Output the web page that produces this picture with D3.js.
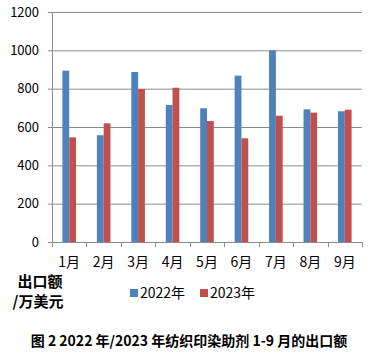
<!DOCTYPE html>
<html>
<head>
    <meta charset="utf-8">
    <title>出口额</title>
    <script src="https://d3js.org/d3.v7.min.js"></script>
    <style>
        body { margin: 0; background: #fff; }
        text { font-family: "Noto Sans CJK SC", "DejaVu Sans", sans-serif; }
    </style>
</head>
<body>
    <script>
        // 月份
        const months = ["1月", "2月", "3月", "4月", "5月", "6月", "7月", "8月", "9月"];
        // 2022年 出口额（万美元）
        const v2022 = [894, 557, 887, 715, 698, 868, 1000, 692, 682];
        // 2023年 出口额（万美元）
        const v2023 = [546, 619, 798, 805, 631, 541, 659, 675, 690];
        const seriesNames = ["2022年", "2023年"];
        const yTicks = [0, 200, 400, 600, 800, 1000, 1200];

        const colors = ["#4f81bd", "#c0504d"];
        const width = 375, height = 358;
        const plotL = 52, plotR = 362, plotT = 12, plotB = 242;

        const data = months.map((m, i) => ({ month: m, vals: [v2022[i], v2023[i]] }));

        const svg = d3.select("body").append("svg")
            .attr("width", width)
            .attr("height", height);

        const x = d3.scaleBand().domain(months).range([plotL, plotR]);
        const y = d3.scaleLinear().domain([0, 1200]).range([plotB, plotT]);
        const barW = 6.8;

        // グリッド線
        svg.selectAll("line.grid")
            .data(yTicks.slice(1))
            .enter().append("line")
            .attr("class", "grid")
            .attr("x1", plotL).attr("x2", plotR)
            .attr("y1", d => y(d) + 0.5).attr("y2", d => y(d) + 0.5)
            .attr("stroke", "#8c8c8c").attr("stroke-width", 1);

        // 縦軸
        svg.append("line")
            .attr("x1", plotL + 0.5).attr("x2", plotL + 0.5)
            .attr("y1", plotT).attr("y2", plotB)
            .attr("stroke", "#8c8c8c");
        svg.selectAll("line.ytick")
            .data(yTicks)
            .enter().append("line")
            .attr("class", "ytick")
            .attr("x1", plotL - 4).attr("x2", plotL)
            .attr("y1", d => y(d) + 0.5).attr("y2", d => y(d) + 0.5)
            .attr("stroke", "#8c8c8c");
        svg.selectAll("text.ylab")
            .data(yTicks)
            .enter().append("text")
            .attr("class", "ylab")
            .attr("x", 39)
            .attr("y", d => y(d))
            .attr("dy", "0.35em")
            .attr("text-anchor", "end")
            .attr("font-size", 13)
            .attr("fill", "#000")
            .text(d => d);

        // 棒
        const groups = svg.selectAll("g.month")
            .data(data)
            .enter().append("g")
            .attr("class", "month");
        [0, 1].forEach(k => {
            groups.append("rect")
                .attr("x", d => x(d.month) + x.bandwidth() / 2 - barW + k * barW)
                .attr("y", d => y(d.vals[k]))
                .attr("width", barW)
                .attr("height", d => y(0) - y(d.vals[k]))
                .attr("fill", colors[k]);
        });

        // 横軸
        svg.append("line")
            .attr("x1", plotL).attr("x2", plotR)
            .attr("y1", plotB + 0.5).attr("y2", plotB + 0.5)
            .attr("stroke", "#8c8c8c");
        svg.selectAll("line.xtick")
            .data(months.concat(["end"]))
            .enter().append("line")
            .attr("class", "xtick")
            .attr("x1", (d, i) => Math.round(plotL + i * x.bandwidth()) + 0.5)
            .attr("x2", (d, i) => Math.round(plotL + i * x.bandwidth()) + 0.5)
            .attr("y1", plotB).attr("y2", plotB + 5)
            .attr("stroke", "#8c8c8c");
        svg.selectAll("text.xlab")
            .data(months)
            .enter().append("text")
            .attr("class", "xlab")
            .attr("x", d => x(d) + x.bandwidth() / 2)
            .attr("y", 262)
            .attr("dy", "0.35em")
            .attr("text-anchor", "middle")
            .attr("font-size", 14)
            .text(d => d);

        // 単位
        svg.append("text")
            .attr("x", 40).attr("y", 282).attr("dy", "0.35em")
            .attr("text-anchor", "middle")
            .attr("font-size", 15).attr("font-weight", "bold")
            .text("出口额");
        svg.append("text")
            .attr("x", 38).attr("y", 302).attr("dy", "0.35em")
            .attr("text-anchor", "middle")
            .attr("font-size", 15).attr("font-weight", "bold")
            .text("/万美元");

        // 凡例
        const legX = [130, 200];
        seriesNames.forEach((s, k) => {
            svg.append("rect")
                .attr("x", legX[k]).attr("y", 289)
                .attr("width", 8).attr("height", 8)
                .attr("fill", colors[k]);
            svg.append("text")
                .attr("x", legX[k] + 10).attr("y", 293).attr("dy", "0.35em")
                .attr("font-size", 14)
                .text(s);
        });

        // 図タイトル
        svg.append("text")
            .attr("x", 189).attr("y", 341).attr("dy", "0.35em")
            .attr("text-anchor", "middle")
            .attr("font-size", 14).attr("font-weight", "bold")
            .text("图 2 2022 年/2023 年纺织印染助剂 1-9 月的出口额");
    </script>
</body>
</html>
